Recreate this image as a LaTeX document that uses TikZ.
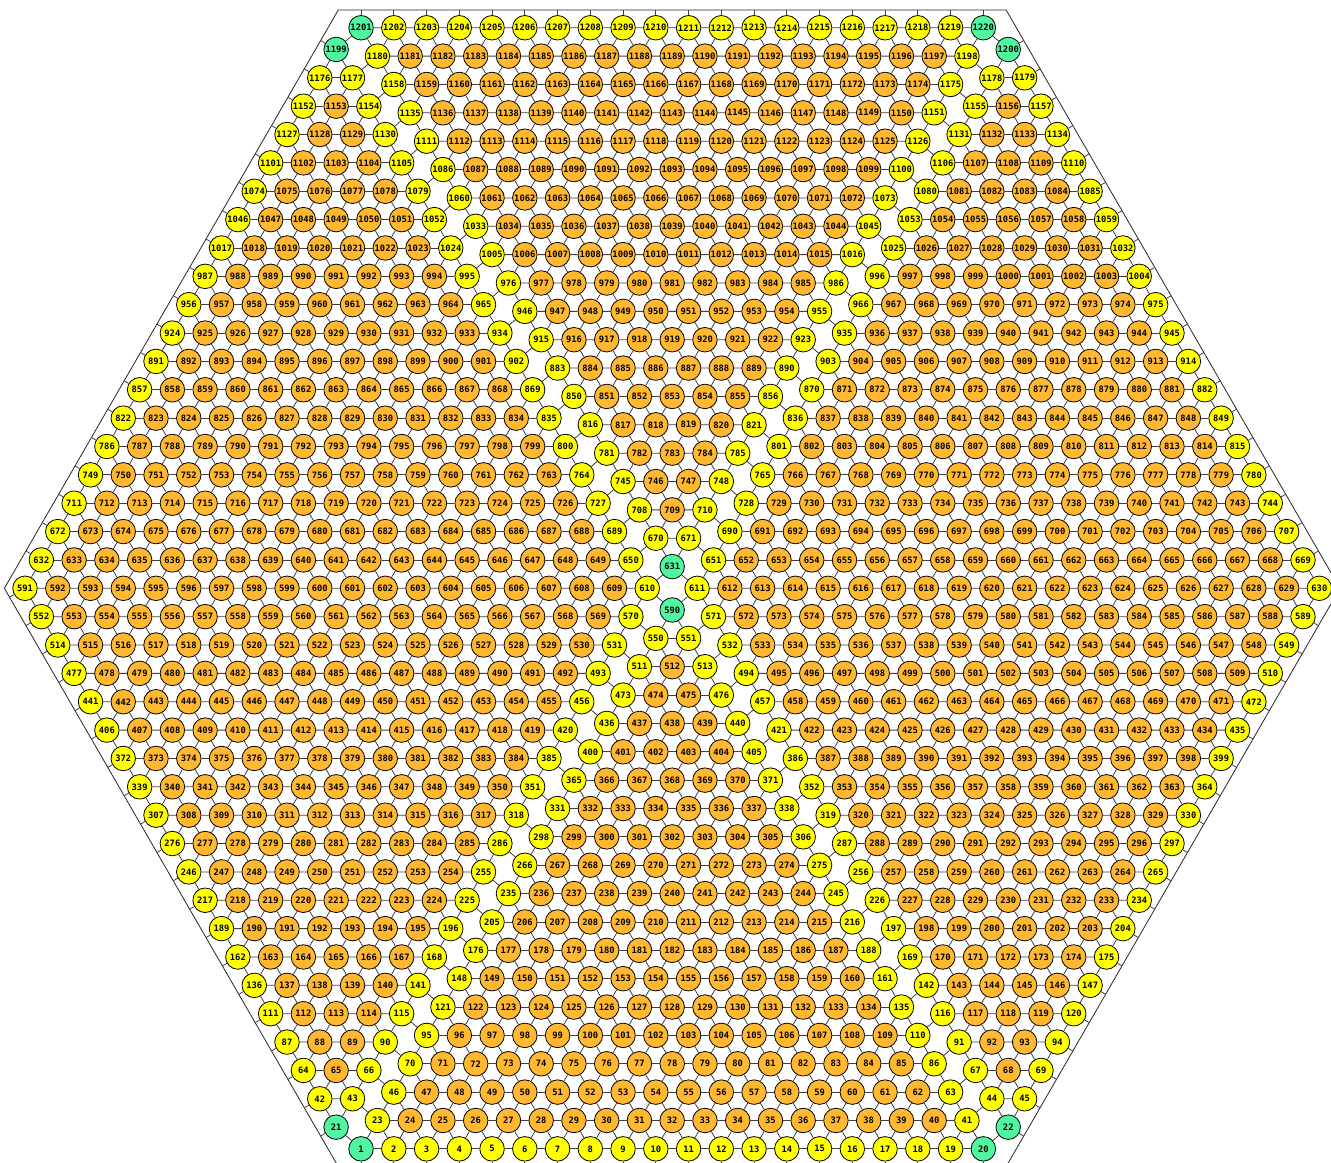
\documentclass[tikz,border=0pt]{standalone}
\usepackage{fontspec}
\newfontfamily\cellfont{DejaVu Sans Mono}
\definecolor{rimfill}{RGB}{255,255,0}
\definecolor{corefill}{RGB}{255,184,48}
\definecolor{cornerfill}{RGB}{80,245,160}
\def\dd{32.75}
\def\hh{28.36}
\def\ao{21.7}
\def\rx{336.05}
\newcommand{\hexcell}[4]{%
  \pgfmathtruncatemacro\isg{(#1==1)||(#1==20)||(#1==21)||(#1==22)||(#1==590)||(#1==631)||(#1==1199)||(#1==1200)||(#1==1201)||(#1==1220)}%
  \ifnum\isg=1 \def\cellcol{cornerfill}\else\ifnum#4=1 \def\cellcol{rimfill}\else\def\cellcol{corefill}\fi\fi
  \node[cellnode, fill=\cellcol] (n#1) at (#2,#3) {#1};%
}
\begin{document}
\begin{tikzpicture}[
    x=0.75pt, y=0.75pt,
    cellnode/.style={circle, draw=black, line width=0.6pt, minimum size=18.4pt, inner sep=0pt, font=\cellfont\bfseries\fontsize{6.6}{7}\selectfont},
    link/.style={draw=black!75, line width=0.6pt},
    hexframe/.style={draw=black!85, line width=0.6pt},
]
\useasboundingbox (-672.2,-574.7) rectangle (658.8,588.3);
\draw[hexframe] (0:667.8) -- (60:667.8) -- (120:667.8) -- (180:667.8) -- (240:667.8) -- (300:667.8) -- cycle;

% lower half: bottom triangle, then left and right rows
\foreach \i in {0,...,19}{
  \pgfmathtruncatemacro\base{22*\i+\i*(\i-1)/2}
  \pgfmathtruncatemacro\pbase{22*(\i-1)+(\i-1)*(\i-2)/2}
  \pgfmathtruncatemacro\rowend{19-\i}
  \pgfmathsetmacro\yb{-\ao-\rowend*\hh}
  \pgfmathsetmacro\yl{-\rowend*\hh}
  \foreach \m in {0,...,\rowend}{
    \pgfmathtruncatemacro\cid{\base+1+\m}
    \pgfmathtruncatemacro\rim{(\i==0)||(\m==0)||(\m==\rowend)}
    \pgfmathsetmacro\px{(\m-\rowend/2)*\dd}
    \hexcell{\cid}{\px}{\yb}{\rim}
    \ifnum\m>0 \pgfmathtruncatemacro\nb{\cid-1}\draw[link] (n\nb) -- (n\cid);\fi
    \ifnum\i>0
      \pgfmathtruncatemacro\na{\pbase+1+\m}\pgfmathtruncatemacro\nb{\pbase+2+\m}
      \draw[link] (n\na) -- (n\cid) (n\nb) -- (n\cid);
    \else
      \draw[link] (n\cid) -- ++(0,-17.8);
    \fi
  }
  \foreach \m in {0,...,\i}{
    \pgfmathtruncatemacro\cid{\base+21-\i+\m}
    \pgfmathtruncatemacro\rim{(\m==0)||(\m==\i)}
    \pgfmathsetmacro\px{-\rx+(\m-\i/2)*\dd}
    \hexcell{\cid}{\px}{\yl}{\rim}
    \ifnum\m>0
      \pgfmathtruncatemacro\nb{\cid-1}\pgfmathtruncatemacro\na{\pbase+21-\i+\m}
      \draw[link] (n\nb) -- (n\cid) (n\na) -- (n\cid);
    \fi
    \ifnum\m<\i \pgfmathtruncatemacro\na{\pbase+22-\i+\m}\draw[link] (n\na) -- (n\cid);\fi
    \ifnum\m=\i \pgfmathtruncatemacro\na{\base+1}\draw[link] (n\na) -- (n\cid);\fi
    \ifnum\m=0 \draw[link] (n\cid) -- ++(210:17.9);\fi
    % right rhombus
    \pgfmathtruncatemacro\cid{\base+22+\m}
    \pgfmathsetmacro\px{\rx+(\m-\i/2)*\dd}
    \hexcell{\cid}{\px}{\yl}{\rim}
    \ifnum\m>0
      \pgfmathtruncatemacro\nb{\cid-1}\pgfmathtruncatemacro\na{\pbase+21+\m}
      \draw[link] (n\nb) -- (n\cid) (n\na) -- (n\cid);
    \fi
    \ifnum\m<\i \pgfmathtruncatemacro\na{\pbase+22+\m}\draw[link] (n\na) -- (n\cid);\fi
    \ifnum\m=0 \pgfmathtruncatemacro\na{\base+20-\i}\draw[link] (n\na) -- (n\cid);\fi
    \ifnum\m=\i \draw[link] (n\cid) -- ++(-30:17.9);\fi
  }
}

% upper half: top triangle rows, then left and right rows
\foreach \u in {0,...,19}{
  \pgfmathtruncatemacro\tb{630+39*\u-\u*(\u-1)/2}
  \pgfmathtruncatemacro\ptb{630+39*(\u-1)-(\u-1)*(\u-2)/2}
  \pgfmathtruncatemacro\kk{18-\u}
  \pgfmathsetmacro\yt{\ao+\u*\hh}
  \pgfmathsetmacro\ys{(\u+1)*\hh}
  \foreach \m in {0,...,\u}{
    \pgfmathtruncatemacro\cid{\tb+1+\m}
    \pgfmathtruncatemacro\rim{(\u==19)||(\m==0)||(\m==\u)}
    \pgfmathsetmacro\px{(\m-\u/2)*\dd}
    \hexcell{\cid}{\px}{\yt}{\rim}
    \ifnum\m>0
      \pgfmathtruncatemacro\nb{\cid-1}\pgfmathtruncatemacro\na{\ptb+\m}
      \draw[link] (n\nb) -- (n\cid) (n\na) -- (n\cid);
    \fi
    \ifnum\m<\u \pgfmathtruncatemacro\na{\ptb+1+\m}\draw[link] (n\na) -- (n\cid);\fi
    \ifnum\m=0 \pgfmathtruncatemacro\na{\u==0 ? 610 : \ptb+20}\draw[link] (n\na) -- (n\cid);\fi
    \ifnum\m=\u \pgfmathtruncatemacro\na{\u==0 ? 611 : \ptb+21}\draw[link] (n\na) -- (n\cid);\fi
    \ifnum\u=19 \draw[link] (n\cid) -- ++(0,17.8);\fi
  }
  \ifnum\u<19
  \foreach \m in {0,...,\kk}{
    \pgfmathtruncatemacro\cid{\tb+\u+2+\m}
    \pgfmathtruncatemacro\rim{(\m==0)||(\m==\kk)}
    \pgfmathsetmacro\px{-\rx+(\m-\kk/2)*\dd}
    \hexcell{\cid}{\px}{\ys}{\rim}
    \ifnum\m>0 \pgfmathtruncatemacro\nb{\cid-1}\draw[link] (n\nb) -- (n\cid);\fi
    \pgfmathtruncatemacro\na{\u==0 ? 591+\m : \ptb+\u+1+\m}\pgfmathtruncatemacro\nb{\na+1}
    \draw[link] (n\na) -- (n\cid) (n\nb) -- (n\cid);
    \ifnum\m=0 \draw[link] (n\cid) -- ++(150:17.9);\fi
    % right rhombus
    \pgfmathtruncatemacro\cid{\tb+21+\m}
    \pgfmathsetmacro\px{\rx+(\m-\kk/2)*\dd}
    \hexcell{\cid}{\px}{\ys}{\rim}
    \ifnum\m>0 \pgfmathtruncatemacro\nb{\cid-1}\draw[link] (n\nb) -- (n\cid);\fi
    \pgfmathtruncatemacro\na{\u==0 ? 611+\m : \ptb+21+\m}\pgfmathtruncatemacro\nb{\na+1}
    \draw[link] (n\na) -- (n\cid) (n\nb) -- (n\cid);
    \ifnum\m=\kk \draw[link] (n\cid) -- ++(30:17.9);\fi
  }
  \fi
}
\end{tikzpicture}
\end{document}
